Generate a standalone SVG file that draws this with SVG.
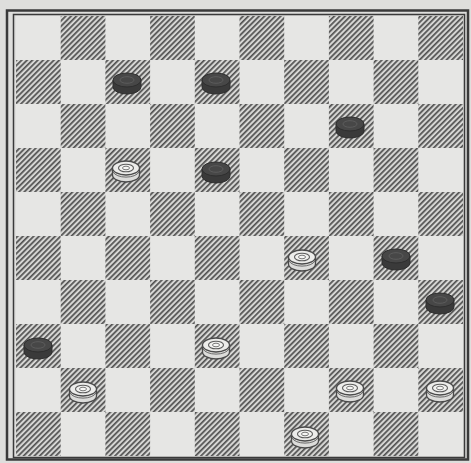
<svg xmlns="http://www.w3.org/2000/svg" xmlns:xlink="http://www.w3.org/1999/xlink" width="471" height="463" viewBox="0 0 471 463">
<style>
.light{fill:#e6e6e4}
.dark{fill:url(#hatch)}
.frame{fill:none;stroke:#3a3a3a}
.bside{fill:#3a3a3a;stroke:#2e2e2e;stroke-width:1}
.btop{fill:#474747;stroke:#2e2e2e;stroke-width:1}
.bring{fill:none;stroke:#5c5c5c;stroke-width:1}
.wside{fill:#dcdcda;stroke:#4a4a4a;stroke-width:1.3}
.wtop{fill:#ececea;stroke:#4a4a4a;stroke-width:1.3}
.wring{fill:#f2f2f0;stroke:#5a5a5a;stroke-width:1.1}
</style>
<defs>
<pattern id="hatch" patternUnits="userSpaceOnUse" width="3.8" height="3.8" patternTransform="rotate(-45)">
<rect width="3.8" height="3.8" fill="#d6d6d4"/>
<rect y="0" width="3.8" height="1.7" fill="#525252"/>
</pattern>
<g id="blackPiece">
<path class="bside" d="M-14,-3 L-14,4 A14,7 0 0 0 14,4 L14,-3 Z"/>
<ellipse class="btop" cx="0" cy="-3" rx="14" ry="7"/>
<ellipse class="bring" cx="0" cy="-3" rx="7" ry="3.3"/>
</g>
<g id="whitePiece">
<path class="wside" d="M-13.5,-3 L-13.5,4 A13.5,7 0 0 0 13.5,4 L13.5,-3 Z"/>
<path fill="none" stroke="#6a6a6a" stroke-width="1" d="M-13,1 A13.5,7 0 0 0 13,1"/>
<ellipse class="wtop" cx="0" cy="-3" rx="13.5" ry="7"/>
<ellipse class="wring" cx="0" cy="-3" rx="7.5" ry="3.8"/>
<ellipse fill="#f6f6f4" stroke="#6a6a6a" stroke-width="0.9" cx="0" cy="-3" rx="3.5" ry="1.8"/>
</g>
</defs>
<rect width="471" height="463" fill="#dededc"/>
<g id="board">
<rect x="16" y="16" width="447" height="440" class="light"/>
<g id="darkSquares">
<rect class="dark" x="60.7" y="16" width="44.7" height="44"/>
<rect class="dark" x="150.1" y="16" width="44.7" height="44"/>
<rect class="dark" x="239.5" y="16" width="44.7" height="44"/>
<rect class="dark" x="328.9" y="16" width="44.7" height="44"/>
<rect class="dark" x="418.3" y="16" width="44.7" height="44"/>
<rect class="dark" x="16" y="60" width="44.7" height="44"/>
<rect class="dark" x="105.4" y="60" width="44.7" height="44"/>
<rect class="dark" x="194.8" y="60" width="44.7" height="44"/>
<rect class="dark" x="284.2" y="60" width="44.7" height="44"/>
<rect class="dark" x="373.6" y="60" width="44.7" height="44"/>
<rect class="dark" x="60.7" y="104" width="44.7" height="44"/>
<rect class="dark" x="150.1" y="104" width="44.7" height="44"/>
<rect class="dark" x="239.5" y="104" width="44.7" height="44"/>
<rect class="dark" x="328.9" y="104" width="44.7" height="44"/>
<rect class="dark" x="418.3" y="104" width="44.7" height="44"/>
<rect class="dark" x="16" y="148" width="44.7" height="44"/>
<rect class="dark" x="105.4" y="148" width="44.7" height="44"/>
<rect class="dark" x="194.8" y="148" width="44.7" height="44"/>
<rect class="dark" x="284.2" y="148" width="44.7" height="44"/>
<rect class="dark" x="373.6" y="148" width="44.7" height="44"/>
<rect class="dark" x="60.7" y="192" width="44.7" height="44"/>
<rect class="dark" x="150.1" y="192" width="44.7" height="44"/>
<rect class="dark" x="239.5" y="192" width="44.7" height="44"/>
<rect class="dark" x="328.9" y="192" width="44.7" height="44"/>
<rect class="dark" x="418.3" y="192" width="44.7" height="44"/>
<rect class="dark" x="16" y="236" width="44.7" height="44"/>
<rect class="dark" x="105.4" y="236" width="44.7" height="44"/>
<rect class="dark" x="194.8" y="236" width="44.7" height="44"/>
<rect class="dark" x="284.2" y="236" width="44.7" height="44"/>
<rect class="dark" x="373.6" y="236" width="44.7" height="44"/>
<rect class="dark" x="60.7" y="280" width="44.7" height="44"/>
<rect class="dark" x="150.1" y="280" width="44.7" height="44"/>
<rect class="dark" x="239.5" y="280" width="44.7" height="44"/>
<rect class="dark" x="328.9" y="280" width="44.7" height="44"/>
<rect class="dark" x="418.3" y="280" width="44.7" height="44"/>
<rect class="dark" x="16" y="324" width="44.7" height="44"/>
<rect class="dark" x="105.4" y="324" width="44.7" height="44"/>
<rect class="dark" x="194.8" y="324" width="44.7" height="44"/>
<rect class="dark" x="284.2" y="324" width="44.7" height="44"/>
<rect class="dark" x="373.6" y="324" width="44.7" height="44"/>
<rect class="dark" x="60.7" y="368" width="44.7" height="44"/>
<rect class="dark" x="150.1" y="368" width="44.7" height="44"/>
<rect class="dark" x="239.5" y="368" width="44.7" height="44"/>
<rect class="dark" x="328.9" y="368" width="44.7" height="44"/>
<rect class="dark" x="418.3" y="368" width="44.7" height="44"/>
<rect class="dark" x="16" y="412" width="44.7" height="44"/>
<rect class="dark" x="105.4" y="412" width="44.7" height="44"/>
<rect class="dark" x="194.8" y="412" width="44.7" height="44"/>
<rect class="dark" x="284.2" y="412" width="44.7" height="44"/>
<rect class="dark" x="373.6" y="412" width="44.7" height="44"/>
</g>
<rect class="frame" x="13.5" y="14.5" width="451" height="443" stroke-width="1.5"/>
<rect class="frame" x="7" y="10.5" width="461" height="449" stroke-width="2.5"/>
</g>
<g id="b1"><use xlink:href="#blackPiece" x="127" y="83"/></g>
<g id="b2"><use xlink:href="#blackPiece" x="216" y="83"/></g>
<g id="b3"><use xlink:href="#blackPiece" x="350" y="127"/></g>
<g id="w1"><use xlink:href="#whitePiece" x="126" y="171"/></g>
<g id="b4"><use xlink:href="#blackPiece" x="216" y="172"/></g>
<g id="w2"><use xlink:href="#whitePiece" x="302" y="260"/></g>
<g id="b5"><use xlink:href="#blackPiece" x="396" y="259"/></g>
<g id="b6"><use xlink:href="#blackPiece" x="440" y="303"/></g>
<g id="b7"><use xlink:href="#blackPiece" x="38" y="348"/></g>
<g id="w3"><use xlink:href="#whitePiece" x="216" y="348"/></g>
<g id="w4"><use xlink:href="#whitePiece" x="83" y="392"/></g>
<g id="w5"><use xlink:href="#whitePiece" x="350" y="391"/></g>
<g id="w6"><use xlink:href="#whitePiece" x="440" y="391"/></g>
<g id="w7"><use xlink:href="#whitePiece" x="305" y="437"/></g>
</svg>
